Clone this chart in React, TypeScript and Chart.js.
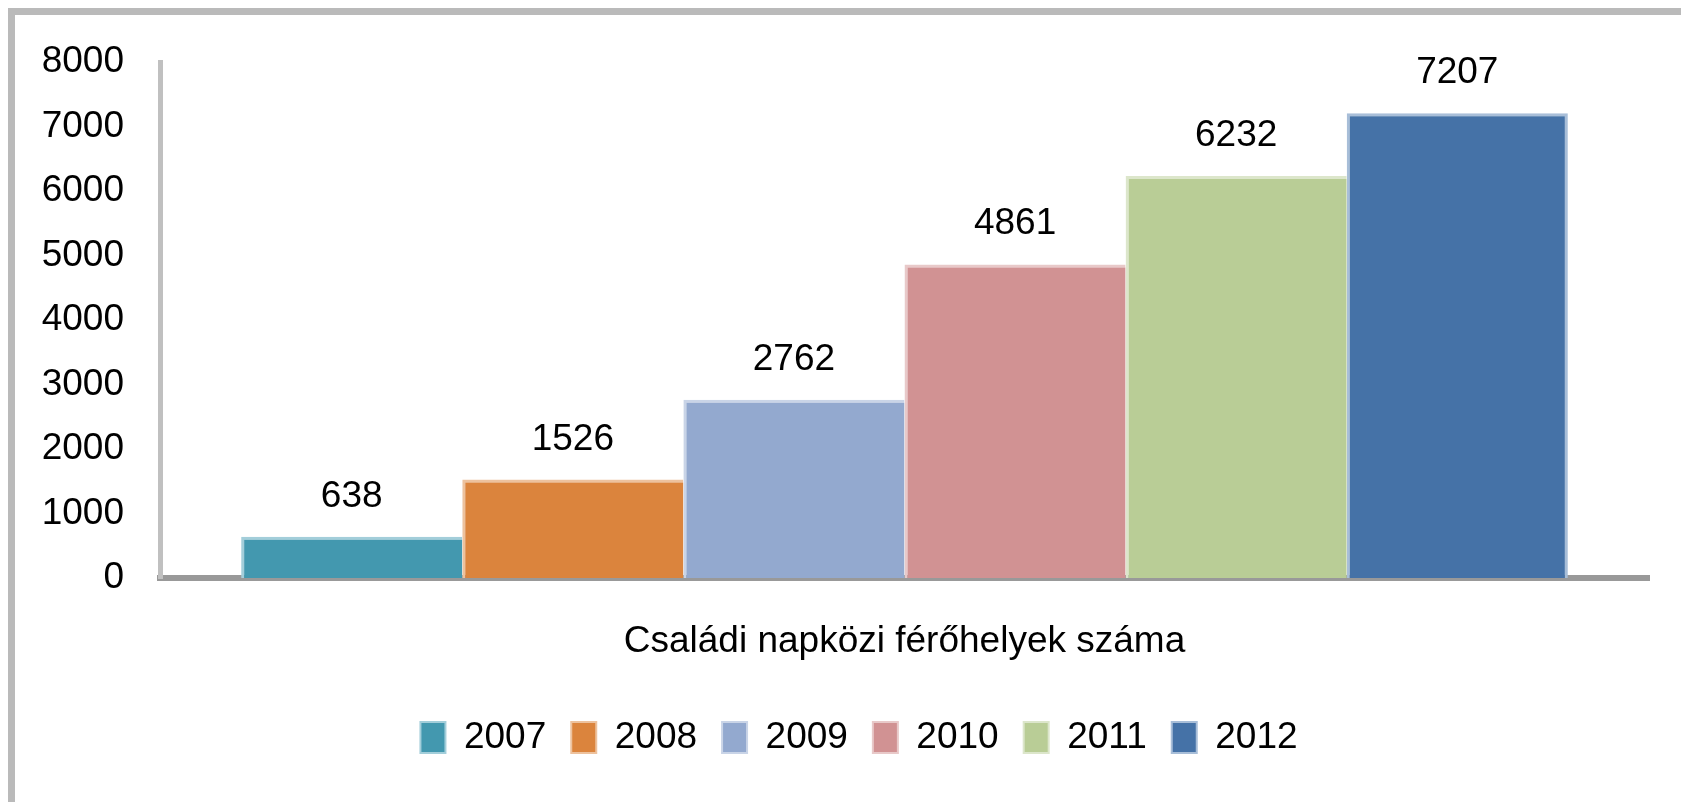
import React, { useEffect, useRef } from 'react';
import { Chart, registerables } from 'chart.js';

Chart.register(...registerables);

const categories = ['Családi napközi férőhelyek száma'];
const years = ['2007', '2008', '2009', '2010', '2011', '2012'];
const values = [638, 1526, 2762, 4861, 6232, 7207];
const fillColors = ['#4398AF', '#DB843D', '#93A9CF', '#D19293', '#B9CD96', '#4572A7'];
const edgeColors = ['#A3CEDA', '#EDC29E', '#C9D4E7', '#E8C9C9', '#DCE6CB', '#A8BED8'];
const yMin = 0;
const yMax = 8000;
const yStep = 1000;

const FONT = '"Liberation Sans", Arial, sans-serif';

const valueLabels = {
  id: 'valueLabels',
  afterDatasetsDraw(chart: any) {
    const ctx = chart.ctx;
    ctx.save();
    ctx.font = `37px ${FONT}`;
    ctx.fillStyle = '#000000';
    ctx.textAlign = 'center';
    ctx.textBaseline = 'alphabetic';
    chart.data.datasets.forEach((ds: any, i: number) => {
      const meta = chart.getDatasetMeta(i);
      meta.data.forEach((el: any, j: number) => {
        ctx.fillText(String(ds.data[j]), el.x, el.y - 30);
      });
    });
    ctx.restore();
  },
};

const legendShift = {
  id: 'legendShift',
  afterLayout(chart: any) {
    const lg = chart.legend;
    if (lg) {
      lg.left += 27;
      lg.right += 27;
    }
  },
};

export default function App() {
  const canvasRef = useRef<HTMLCanvasElement | null>(null);

  useEffect(() => {
    if (!canvasRef.current) return;
    const datasets = years.map((y, i) => ({
      label: y,
      data: [values[i]],
      backgroundColor: fillColors[i],
      borderColor: edgeColors[i],
      borderWidth: { top: 3, left: 3, right: i === years.length - 1 ? 3 : 0, bottom: 0 },
      borderSkipped: false as any,
      categoryPercentage: 0.891,
      barPercentage: 1,
    }));

    const chart = new Chart(canvasRef.current, {
      type: 'bar',
      data: { labels: categories, datasets },
      options: {
        animation: false,
        responsive: false,
        devicePixelRatio: 1,
        layout: { padding: { top: 47, right: 32, bottom: 36, left: 0 } },
        plugins: {
          tooltip: { enabled: false },
          legend: {
            position: 'bottom',
            labels: {
              font: { family: FONT, size: 37 },
              color: '#000000',
              boxWidth: 25,
              boxHeight: 31,
              padding: 25,
              generateLabels: () =>
                years.map((y, i) => ({
                  text: y,
                  fillStyle: fillColors[i],
                  strokeStyle: edgeColors[i],
                  lineWidth: 2,
                  hidden: false,
                  datasetIndex: i,
                  fontColor: '#000000',
                })),
            },
          },
        },
        scales: {
          x: {
            type: 'category',
            z: 1,
            grid: { display: false, drawTicks: false },
            border: { display: true, color: 'rgba(110,110,110,0.7)', width: 6 },
            ticks: {
              font: { family: FONT, size: 37 },
              color: '#000000',
              padding: 42,
              maxRotation: 0,
            },
            afterFit: (scale: any) => {
              scale.height = 116;
            },
          },
          y: {
            min: yMin,
            max: yMax,
            grid: { display: false, drawTicks: false },
            border: { display: true, color: '#c0c0c0', width: 5 },
            ticks: {
              stepSize: yStep,
              font: { family: FONT, size: 37 },
              color: '#000000',
              padding: 36,
              callback: (v: any) => String(v),
            },
            afterFit: (scale: any) => {
              scale.width = 145;
              scale.paddingTop = 0;
              scale.paddingBottom = 0;
            },
          },
        },
      },
      plugins: [valueLabels, legendShift],
    });

    return () => chart.destroy();
  }, []);

  return (
    <div
      style={{
        position: 'fixed',
        left: 8,
        top: 8,
        right: 0,
        bottom: 0,
        borderTop: '7px solid #bababa',
        borderLeft: '7px solid #bababa',
        background: '#ffffff',
        overflow: 'hidden',
      }}
    >
      <canvas
        ref={canvasRef}
        width={1666}
        height={787}
        style={{ display: 'block', width: 1666, height: 787 }}
      />
    </div>
  );
}
